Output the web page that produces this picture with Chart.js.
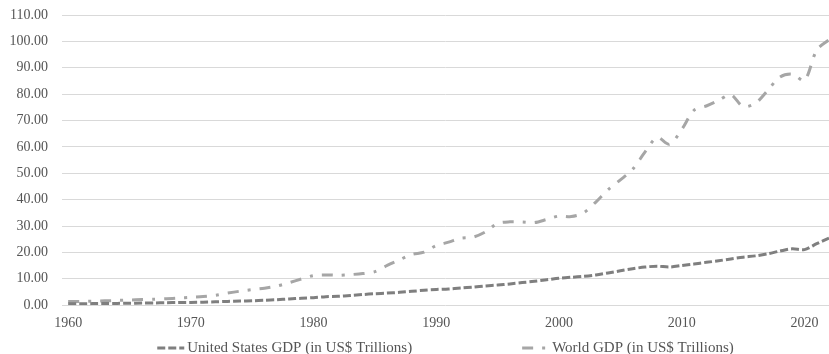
<!DOCTYPE html>
<html>
<head>
<meta charset="utf-8">
<script src="https://cdn.jsdelivr.net/npm/chart.js@4/dist/chart.umd.min.js"></script>
<style>
  html, body { margin: 0; padding: 0; background: #ffffff; overflow: hidden; }
  #wrap { width: 829px; height: 354px; position: relative; }
</style>
</head>
<body>
<div id="wrap"><canvas id="gdp"></canvas></div>
<script>
// Annual GDP, current US$ trillions, 1960-2022
const years = [];
for (let y = 1960; y <= 2022; y++) years.push(y);

const usGdp = [
  0.54, 0.56, 0.60, 0.64, 0.69, 0.74, 0.82, 0.86, 0.94, 1.02,
  1.07, 1.16, 1.28, 1.43, 1.55, 1.69, 1.88, 2.09, 2.36, 2.63,
  2.86, 3.21, 3.35, 3.64, 4.04, 4.35, 4.59, 4.87, 5.25, 5.66,
  5.96, 6.16, 6.52, 6.86, 7.29, 7.64, 8.07, 8.58, 9.06, 9.63,
  10.25, 10.58, 10.94, 11.46, 12.21, 13.04, 13.81, 14.47, 14.77, 14.48,
  15.05, 15.60, 16.25, 16.84, 17.55, 18.21, 18.70, 19.48, 20.53, 21.38,
  21.06, 23.32, 25.46
];

const worldGdp = [
  1.38, 1.44, 1.54, 1.66, 1.81, 1.96, 2.13, 2.26, 2.44, 2.69,
  2.96, 3.27, 3.77, 4.59, 5.30, 5.90, 6.42, 7.26, 8.54, 9.93,
  11.23, 11.48, 11.35, 11.60, 11.98, 12.71, 15.07, 17.18, 19.23, 20.10,
  22.60, 23.90, 25.40, 25.80, 27.80, 31.00, 31.60, 31.50, 31.30, 32.50,
  33.80, 33.60, 35.00, 39.10, 43.80, 47.50, 51.50, 58.00, 63.60, 61.00,
  66.60, 73.90, 75.50, 77.60, 79.80, 75.30, 76.50, 81.40, 86.50, 87.60,
  85.20, 96.70, 100.60
];

const yearTicks = [1960, 1970, 1980, 1990, 2000, 2010, 2020];
const seriesNames = ['United States GDP (in US$ Trillions)', 'World GDP (in US$ Trillions)'];

const FONT = '"Liberation Serif", "DejaVu Serif", serif';
const TEXT = '#555555';
const US_COLOR = '#7f7f7f';
const WORLD_COLOR = '#a6a6a6';
const US_DASH = [8, 3];
const WORLD_DASH = [11, 9, 3, 9];

const toPoints = (vals) => vals.map((v, i) => ({ x: years[i], y: v }));

// Legend under the axis, both entries centred as a group on the plot area
const bottomLegend = {
  id: 'bottomLegend',
  afterDraw(chart) {
    const { ctx, chartArea } = chart;
    const sample = 27, textGap = 3, itemGap = 110;
    ctx.save();
    ctx.font = '15px ' + FONT;
    const items = chart.data.datasets.map(ds => ({
      ds, w: sample + textGap + ctx.measureText(ds.label).width
    }));
    const total = items.reduce((s, it) => s + it.w, 0) + itemGap * (items.length - 1);
    let x = (chartArea.left + chartArea.right) / 2 - total / 2;
    const y = chart.height - 6;
    items.forEach(it => {
      ctx.beginPath();
      ctx.setLineDash(it.ds.borderDash);
      ctx.lineCap = 'butt';
      ctx.lineWidth = it.ds.borderWidth;
      ctx.strokeStyle = it.ds.borderColor;
      ctx.moveTo(x, y);
      ctx.lineTo(x + sample, y);
      ctx.stroke();
      ctx.setLineDash([]);
      ctx.fillStyle = TEXT;
      ctx.textAlign = 'left';
      ctx.textBaseline = 'middle';
      ctx.fillText(it.ds.label, x + sample + textGap, y);
      x += it.w + itemGap;
    });
    ctx.restore();
  }
};

new Chart(document.getElementById('gdp'), {
  type: 'line',
  data: {
    datasets: [
      {
        label: seriesNames[0],
        data: toPoints(usGdp),
        borderColor: US_COLOR,
        borderWidth: 3,
        borderDash: US_DASH,
        borderCapStyle: 'butt',
        pointRadius: 0,
        tension: 0.3,
        fill: false
      },
      {
        label: seriesNames[1],
        data: toPoints(worldGdp),
        borderColor: WORLD_COLOR,
        borderWidth: 3,
        borderDash: WORLD_DASH,
        borderCapStyle: 'butt',
        pointRadius: 0,
        tension: 0.3,
        fill: false
      }
    ]
  },
  options: {
    responsive: true,
    maintainAspectRatio: false,
    animation: false,
    layout: { padding: { top: 15, right: 0, bottom: 12, left: 0 } },
    plugins: {
      legend: { display: false },
      tooltip: { enabled: false }
    },
    scales: {
      x: {
        type: 'linear',
        min: 1959.5,
        max: 2022,
        afterBuildTicks(scale) {
          scale.ticks = yearTicks.map(v => ({ value: v }));
        },
        afterFit(scale) { scale.paddingLeft = 0; scale.paddingRight = 0; },
        grid: { display: false, drawTicks: false },
        border: { display: false },
        ticks: {
          autoSkip: false,
          maxRotation: 0,
          padding: 10,
          color: TEXT,
          font: { family: FONT, size: 14 },
          callback: (v) => String(v)
        }
      },
      y: {
        min: 0,
        max: 110,
        afterFit(scale) {
          scale.width = 62;
          scale.paddingTop = 0;
          scale.paddingBottom = 0;
        },
        grid: { color: '#d9d9d9', lineWidth: 1, drawTicks: false },
        border: { display: false },
        ticks: {
          stepSize: 10,
          padding: 14,
          color: TEXT,
          font: { family: FONT, size: 14 },
          callback: (v) => v.toFixed(2)
        }
      }
    }
  },
  plugins: [bottomLegend]
});
</script>
</body>
</html>
